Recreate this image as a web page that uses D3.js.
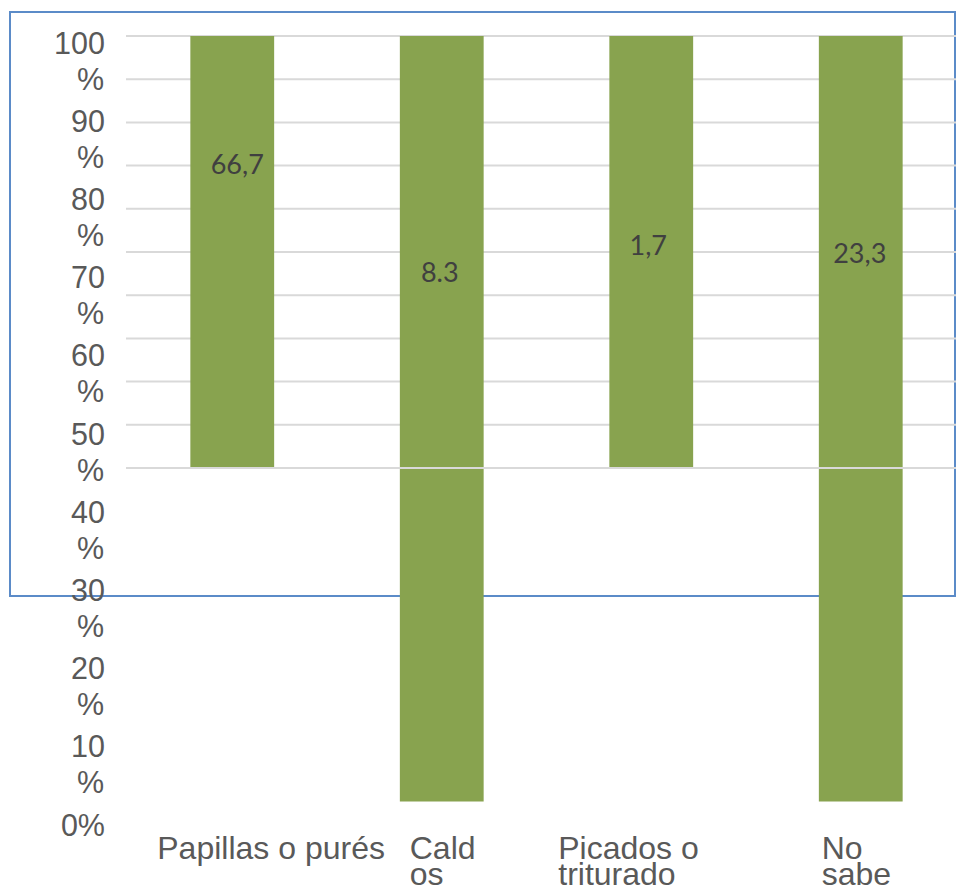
<!DOCTYPE html>
<html>
<head>
<meta charset="utf-8">
<script src="https://cdn.jsdelivr.net/npm/d3@7"></script>
<style>
  html, body { margin: 0; padding: 0; background: #ffffff; }
  svg { display: block; }
</style>
</head>
<body>
<svg id="chart" width="956" height="888"></svg>
<script>
// Categories and their wrapped axis labels
const categories = ["Papillas o purés", "Caldos", "Picados o triturado", "No sabe"];
const categoryLines = [["Papillas o purés"], ["Cald", "os"], ["Picados o", "triturado"], ["No", "sabe"]];

// Bar extents (percent) and the data labels printed inside them
const barTop = [100, 100, 100, 100];
const barBottom = [50, 11.4, 50, 11.4];
const dataLabels = ["66,7", "8.3", "1,7", "23,3"];

// Axis tick values and gridline values
const axisTicks = [0, 10, 20, 30, 40, 50, 60, 70, 80, 90, 100];
const gridTicks = [50, 55, 60, 65, 70, 75, 80, 85, 90, 95, 100];

// Layout constants
const labelLevel = [84.0, 71.5, 74.7, 73.7];    // data-label baselines on the plot scale
const labelShift = [5, -2, -3, -1];             // data-label x nudge from bar centre
const catLabelShift = [-75, -32, -93, -39];     // category label left edge from band centre

const svg = d3.select("#chart");

const x = d3.scaleBand().domain(categories).range([127.5, 965.5]).padding(0);
const yPlot = d3.scaleLinear().domain([0, 100]).range([900, 36]);
const yAxis = d3.scaleLinear().domain([0, 100]).range([835, 53]);

const barW = x.bandwidth() * 0.4;
const green = "#88a34f";
const textGray = "#595959";

// Outer frame
svg.append("rect")
  .attr("x", 10).attr("y", 12)
  .attr("width", 945).attr("height", 584)
  .attr("fill", "none")
  .attr("stroke", "#5b8bc8")
  .attr("stroke-width", 2);

// Horizontal gridlines
svg.append("g").selectAll("line")
  .data(gridTicks)
  .join("line")
  .attr("x1", 126).attr("x2", 956)
  .attr("y1", d => yPlot(d)).attr("y2", d => yPlot(d))
  .attr("stroke", "#d9d9d9")
  .attr("stroke-width", 2);

// Bars
const rows = categories.map((c, i) => ({ c, i, top: barTop[i], bottom: barBottom[i] }));
svg.append("g").selectAll("rect")
  .data(rows)
  .join("rect")
  .attr("x", d => x(d.c) + (x.bandwidth() - barW) / 2)
  .attr("y", d => yPlot(d.top))
  .attr("width", barW)
  .attr("height", d => yPlot(d.bottom) - yPlot(d.top))
  .attr("fill", green);

// Mid gridline drawn over the bars
svg.append("line")
  .attr("x1", 126).attr("x2", 956)
  .attr("y1", yPlot(50)).attr("y2", yPlot(50))
  .attr("stroke", "#d9d9d9")
  .attr("stroke-width", 2);

// Data labels
svg.append("g").selectAll("text")
  .data(rows)
  .join("text")
  .attr("x", d => x(d.c) + x.bandwidth() / 2 + labelShift[d.i])
  .attr("y", d => yPlot(labelLevel[d.i]))
  .attr("text-anchor", "middle")
  .attr("font-family", "Lato, 'Open Sans', sans-serif")
  .attr("font-size", 27)
  .attr("fill", "#404040")
  .text(d => dataLabels[d.i]);

// Y axis with wrapped percentage labels
const gy = svg.append("g")
  .attr("transform", "translate(105,0)")
  .call(d3.axisLeft(yAxis).tickValues(axisTicks).tickFormat(d => d + "%").tickSize(0));
gy.select(".domain").remove();
gy.selectAll(".tick text")
  .attr("x", 0)
  .attr("dy", null)
  .attr("text-anchor", "end")
  .attr("font-family", "'Liberation Sans', Arial, sans-serif")
  .attr("font-size", 30.5)
  .attr("fill", textGray)
  .each(function (d) {
    const t = d3.select(this);
    t.text(null);
    if (d === 0) {
      t.append("tspan").attr("x", 0).attr("y", 0).text(d + "%");
    } else {
      t.append("tspan").attr("x", 0).attr("y", 0).text(d);
      t.append("tspan").attr("x", -1).attr("y", 36).text("%");
    }
  });

// Category labels
const gx = svg.append("g");
categories.forEach((c, i) => {
  const t = gx.append("text")
    .attr("font-family", "'Liberation Sans', Arial, sans-serif")
    .attr("font-size", 32)
    .attr("fill", textGray)
    .attr("text-anchor", "start");
  categoryLines[i].forEach((line, j) => {
    t.append("tspan")
      .attr("x", x(c) + x.bandwidth() / 2 + catLabelShift[i])
      .attr("y", 859 + j * 26)
      .text(line);
  });
});
</script>
</body>
</html>
